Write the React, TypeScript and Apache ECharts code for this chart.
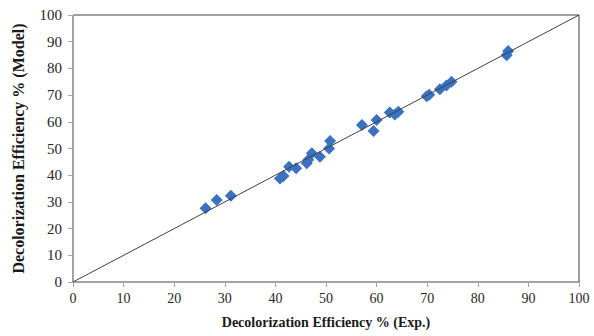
import React, { useEffect, useRef } from "react";
import * as echarts from "echarts";

const expValues = [26.2, 28.4, 31.2, 40.9, 41.6, 42.7, 44.1, 46.2, 47.2, 46.5, 48.8, 50.8, 50.6, 57.1, 59.4, 60.0, 62.6, 63.6, 64.3, 69.9, 70.4, 72.5, 73.8, 74.8, 85.7, 86.0];
const modelValues = [27.6, 30.7, 32.3, 38.8, 39.7, 43.2, 42.6, 44.5, 48.2, 45.8, 46.9, 52.8, 50.0, 58.8, 56.6, 60.7, 63.5, 62.7, 63.8, 69.6, 70.1, 72.2, 73.6, 75.0, 84.9, 86.5];
const lineX = [0, 100];
const lineY = [0, 100];
const xTitle = "Decolorization Efficiency % (Exp.)";
const yTitle = "Decolorization Efficiency % (Model)";

const FONT = "'Liberation Serif', 'Times New Roman', serif";

export default function App() {
  const ref = useRef<HTMLDivElement>(null);
  useEffect(() => {
    if (!ref.current) return;
    const chart = echarts.init(ref.current, undefined, { renderer: "svg" });
    const axisCommon = {
      min: 0,
      max: 100,
      interval: 10,
      splitLine: { show: false },
      axisLine: { show: true, lineStyle: { color: "#a6a6a6", width: 1 } },
      axisTick: { show: true, length: 5, lineStyle: { color: "#a6a6a6" } },
      nameLocation: "middle" as const,
    };
    chart.setOption({
      animation: false,
      grid: {
        left: 73,
        right: 15,
        top: 15,
        bottom: 54,
        outerBoundsMode: "none",
        containLabel: false,
        show: true,
        borderColor: "#404040",
        borderWidth: 1,
        backgroundColor: "transparent",
      },
      xAxis: {
        ...axisCommon,
        type: "value",
        name: xTitle,
        nameGap: 33,
        nameTextStyle: { fontFamily: FONT, fontWeight: "bold", fontSize: 14, color: "#1a1a1a" },
        axisLabel: { fontFamily: FONT, fontSize: 14, color: "#262626", margin: 9 },
      },
      yAxis: {
        ...axisCommon,
        type: "value",
        name: yTitle,
        nameGap: 47,
        nameRotate: 90,
        nameTextStyle: { fontFamily: FONT, fontWeight: "bold", fontSize: 16, color: "#1a1a1a" },
        axisLabel: { fontFamily: FONT, fontSize: 15, color: "#262626", margin: 11 },
      },
      series: [
        {
          type: "line",
          data: lineX.map((x, i) => [x, lineY[i]]),
          showSymbol: false,
          lineStyle: { color: "#404040", width: 1 },
          silent: true,
          z: 3,
        },
        {
          type: "scatter",
          data: expValues.map((x, i) => [x, modelValues[i]]),
          symbol: "diamond",
          symbolSize: 12,
          itemStyle: { color: "#3872C0", opacity: 1 },
          z: 2,
        },
      ],
    });
    return () => chart.dispose();
  }, []);
  return (
    <div
      ref={ref}
      style={{ position: "absolute", left: 0, top: 0, width: 594, height: 336 }}
    />
  );
}
